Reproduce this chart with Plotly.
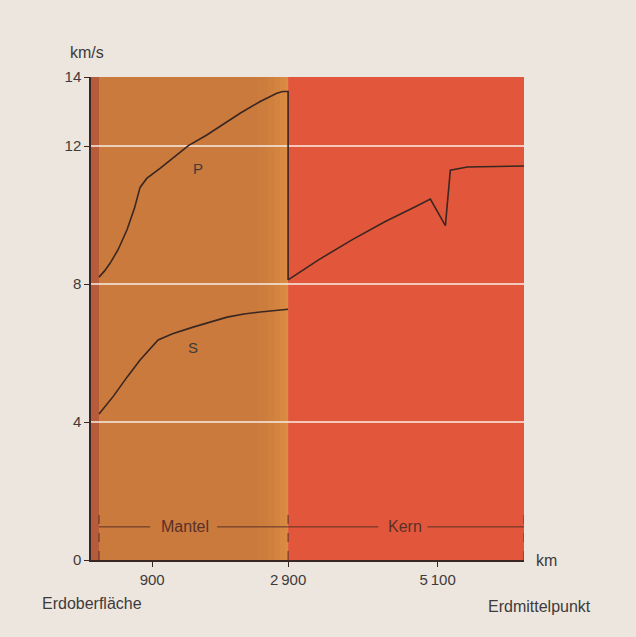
import plotly.graph_objects as go

# ---- data ----
p_depth = [118, 200, 280, 400, 530, 640, 722, 820, 1016, 1433, 1704, 1998, 2194,
           2489, 2734, 2820, 2900,
           2900, 3348, 3839, 4330, 4772, 4993, 5214, 5287, 5537, 6371]
p_speed = [8.2, 8.38, 8.6, 9.0, 9.57, 10.2, 10.8, 11.06, 11.35, 12.01, 12.32, 12.71, 12.95,
           13.29, 13.53, 13.58, 13.58,
           8.12, 8.7, 9.28, 9.81, 10.24, 10.46, 9.69, 11.3, 11.39, 11.42]
s_depth = [118, 330, 530, 722, 987, 1200, 1502, 1750, 2003, 2250, 2489, 2900]
s_speed = [4.23, 4.75, 5.3, 5.8, 6.38, 6.56, 6.75, 6.9, 7.04, 7.13, 7.19, 7.27]

crust_end = 118
mantle_end = 2900
core_end = 6371

x_tickvals = [900, 2900, 5100]
x_ticktext = ["900", "2\u2009900", "5\u2009100"]
y_tickvals = [0, 4, 8, 12, 14]
grid_vals = [4, 8, 12]

TXT = "#403a3a"
LINE = "#3a2622"
FONT = "Liberation Sans"

L, R, T, B = 91, 524, 77, 560
def px(xp):
    return (xp - L) / (R - L)
def py(yp):
    return (B - yp) / (B - T)

fig = go.Figure()
fig.add_trace(go.Scatter(x=p_depth, y=p_speed, mode="lines",
                         line=dict(color=LINE, width=1.6), hoverinfo="skip"))
fig.add_trace(go.Scatter(x=s_depth, y=s_speed, mode="lines",
                         line=dict(color=LINE, width=1.6), hoverinfo="skip"))

shapes = []
shapes.append(dict(type="rect", xref="x", yref="y", x0=0, x1=crust_end, y0=0, y1=14,
                   fillcolor="#b65c3a", line=dict(width=0), layer="below"))
shapes.append(dict(type="rect", xref="x", yref="y", x0=crust_end, x1=mantle_end, y0=0, y1=14,
                   fillcolor="#c97a3c", line=dict(width=0), layer="below"))
for x0, col in [(2450, "#cc7d3d"), (2600, "#cf803e"), (2700, "#d3843f"), (2780, "#d78841"), (2850, "#db8c42")]:
    shapes.append(dict(type="rect", xref="x", yref="y", x0=x0, x1=mantle_end, y0=0, y1=14,
                       fillcolor=col, line=dict(width=0), layer="below"))
shapes.append(dict(type="rect", xref="x", yref="y", x0=mantle_end, x1=core_end, y0=0, y1=14,
                   fillcolor="#e2573b", line=dict(width=0), layer="below"))
for g in grid_vals:
    shapes.append(dict(type="line", xref="x", yref="y", x0=0, x1=core_end, y0=g, y1=g,
                       line=dict(color="#f6eee6", width=1.5), layer="below"))
for xb in [crust_end, mantle_end, core_end]:
    shapes.append(dict(type="line", xref="x", yref="y", x0=xb, x1=xb, y0=0, y1=1.36,
                       line=dict(color="#5a3028", width=1, dash="dash")))
for a, b in [(crust_end, 870), (1856, 4227), (4950, core_end)]:
    shapes.append(dict(type="line", xref="x", yref="y", x0=a, x1=b, y0=0.96, y1=0.96,
                       line=dict(color="#5a3028", width=1)))

annotations = [
    dict(x=1385, y=0.96, xref="x", yref="y", text="Mantel", showarrow=False,
         font=dict(size=16, color="#5a3028", family=FONT)),
    dict(x=4625, y=0.96, xref="x", yref="y", text="Kern", showarrow=False,
         font=dict(size=16, color="#5a3028", family=FONT)),
    dict(x=1575, y=11.36, xref="x", yref="y", text="P", showarrow=False,
         font=dict(size=15, color=TXT, family=FONT)),
    dict(x=1500, y=6.17, xref="x", yref="y", text="S", showarrow=False,
         font=dict(size=15, color=TXT, family=FONT)),
    dict(x=px(87), y=py(52), xref="paper", yref="paper", text="km/s", showarrow=False,
         xanchor="center", yanchor="middle", font=dict(size=16, color=TXT, family=FONT)),
    dict(x=px(534), y=py(560), xref="paper", yref="paper", text="km", showarrow=False,
         xanchor="left", yanchor="middle", font=dict(size=16, color=TXT, family=FONT)),
    dict(x=px(40), y=py(603), xref="paper", yref="paper", text="Erdoberfläche", showarrow=False,
         xanchor="left", yanchor="middle", font=dict(size=16, color=TXT, family=FONT)),
    dict(x=px(486), y=py(606), xref="paper", yref="paper", text="Erdmittelpunkt", showarrow=False,
         xanchor="left", yanchor="middle", font=dict(size=16, color=TXT, family=FONT)),
]

fig.update_layout(
    width=636, height=637,
    margin=dict(l=L, r=636 - R, t=T, b=637 - B, autoexpand=False),
    paper_bgcolor="#ece6de", plot_bgcolor="#ece6de",
    showlegend=False,
    shapes=shapes, annotations=annotations,
    xaxis=dict(range=[0, core_end], showgrid=False, zeroline=False,
               tickvals=x_tickvals, ticktext=x_ticktext,
               ticks="outside", ticklen=5, tickcolor=LINE, tickwidth=1.2,
               showline=True, linecolor=LINE, linewidth=1.5,
               tickfont=dict(size=15, color=TXT, family=FONT), fixedrange=True),
    yaxis=dict(range=[0, 14], showgrid=False, zeroline=False,
               tickvals=y_tickvals, ticks="outside", ticklen=5, tickcolor=LINE, tickwidth=1.2,
               showline=True, linecolor=LINE, linewidth=1.5,
               tickfont=dict(size=15, color=TXT, family=FONT), fixedrange=True),
)

fig.write_html("out.html", config={"displayModeBar": False},
               post_script="document.body.style.margin='0';document.body.style.background='#ece6de';")
